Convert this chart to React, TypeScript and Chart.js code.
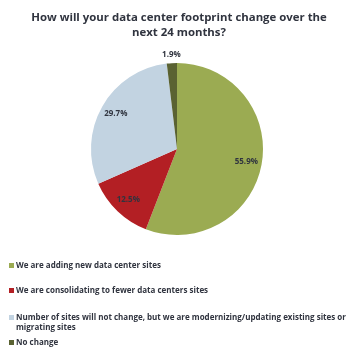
import React, { useEffect, useRef } from "react";
import { Chart, registerables } from "chart.js";

Chart.register(...registerables);

const title = ["How will your data center footprint change over the", "next 24 months?"];
const categories = [
  "We are adding new data center sites",
  "We are consolidating to fewer data centers sites",
  "Number of sites will not change, but we are modernizing/updating existing sites or migrating sites",
  "No change",
];
const values = [55.9, 12.5, 29.7, 1.9];
const valueLabels = ["55.9%", "12.5%", "29.7%", "1.9%"];
const colors = ["#9bab52", "#b31f24", "#c2d3e1", "#5a6232"];

const TEXT = "#30343f";
const FONT = "'Open Sans', Lato, sans-serif";

const labelPlugin = {
  id: "sliceLabels",
  afterDatasetsDraw(chart: any) {
    const ctx = chart.ctx;
    const meta = chart.getDatasetMeta(0);
    ctx.save();
    ctx.font = `bold 8px ${FONT}`;
    ctx.fillStyle = TEXT;
    ctx.textAlign = "center";
    ctx.textBaseline = "middle";
    meta.data.forEach((arc: any, i: number) => {
      const { x, y, startAngle, endAngle, outerRadius } = arc.getProps(
        ["x", "y", "startAngle", "endAngle", "outerRadius"],
        true
      );
      const mid = (startAngle + endAngle) / 2;
      const small = values[i] < 5;
      const r = small ? outerRadius + 8 : outerRadius * 0.82;
      ctx.fillText(valueLabels[i], x + Math.cos(mid) * r, y + Math.sin(mid) * r);
    });
    ctx.restore();
  },
};

export default function App() {
  const ref = useRef<HTMLCanvasElement>(null);
  useEffect(() => {
    document.body.style.margin = "0";
    const chart = new Chart(ref.current!, {
      type: "pie",
      data: {
        labels: categories,
        datasets: [
          {
            data: values,
            backgroundColor: colors,
            borderWidth: 0,
          },
        ],
      },
      options: {
        animation: false,
        responsive: false,
        layout: { padding: { top: 63, bottom: 120, left: 91, right: 95 } },
        plugins: {
          legend: { display: false },
          tooltip: { enabled: false },
          title: { display: false },
        },
      },
      plugins: [labelPlugin],
    });
    return () => chart.destroy();
  }, []);

  const legendTops = [260, 285, 312, 337];
  return (
    <div style={{ position: "relative", width: 358, height: 355, background: "#fff", fontFamily: FONT, color: TEXT }}>
      <canvas ref={ref} width={358} height={355} style={{ position: "absolute", left: 0, top: 0 }} />
      <div
        style={{
          position: "absolute",
          left: 0,
          top: 9,
          width: 358,
          textAlign: "center",
          fontWeight: "bold",
          fontSize: 11.4,
          lineHeight: "15px",
        }}
      >
        {title[0]}
        <br />
        {title[1]}
      </div>
      {categories.map((c, i) => (
        <div
          key={i}
          style={{
            position: "absolute",
            left: 9,
            top: legendTops[i],
            width: 342,
            display: "flex",
            fontSize: 8,
            fontWeight: "bold",
            lineHeight: "10px",
          }}
        >
          <span
            style={{
              display: "inline-block",
              width: 5,
              height: 5,
              background: colors[i],
              marginTop: 3,
              marginRight: 2,
              flex: "0 0 auto",
            }}
          />
          <span>{c}</span>
        </div>
      ))}
    </div>
  );
}
